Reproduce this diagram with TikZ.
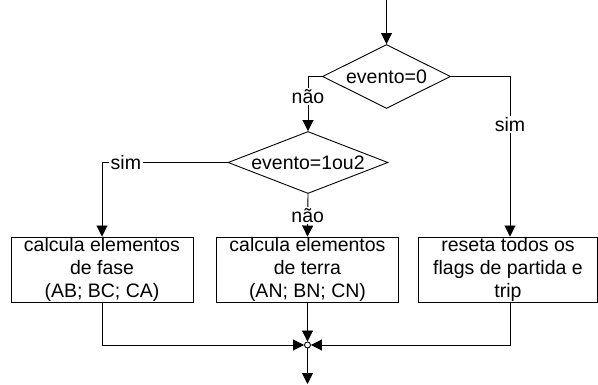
\documentclass[tikz,border=0pt]{standalone}
\usepackage{fontspec}
\setmainfont{Liberation Sans}
\usetikzlibrary{shapes.geometric,arrows.meta}

\tikzset{
    flow/.style={line width=0.9pt, -{Triangle[length=11pt, width=11pt]}},
    decision/.style={diamond, draw, line width=0.9pt, inner sep=0pt},
    procbox/.style={rectangle, draw, line width=0.9pt, align=center,
        minimum height=65pt, inner sep=0pt},
    tag/.style={fill=white, inner sep=1.5pt}
}

\begin{document}
\begin{tikzpicture}[x=1pt, y=-1pt, font=\fontsize{19.5}{23}\selectfont]
    \useasboundingbox (0,0) rectangle (598,385);

    % Decisions
    \node[decision, minimum width=128pt, minimum height=64pt, shape aspect=2] (ev0) at (386.5, 76.5) {evento=0};
    \node[decision, minimum width=160pt, minimum height=62pt, shape aspect=2.6] (ev12) at (308, 162.5) {evento=1ou2};

    % Process boxes
    \node[procbox, minimum width=182pt] (fase) at (102, 269.5) {calcula elementos\\ de fase\\ (AB; BC; CA)};
    \node[procbox, minimum width=182pt] (terra) at (307.5, 269.5) {calcula elementos\\ de terra\\ (AN; BN; CN)};
    \node[procbox, minimum width=179pt] (reset) at (508, 269.5) {reseta todos os\\ flags de partida e\\ trip};

    % Junction
    \node[circle, draw, fill=white, line width=0.9pt, inner sep=0pt, minimum size=6pt] (join) at (307.5, 345) {};

    \coordinate (start) at (386.5, 0);
    \coordinate (finish) at (307.5, 384);

    % Connectors
    \draw[flow] (start) -- (ev0.north);
    \draw[flow] (ev0.west) -| node[tag, pos=0.68] {não} (ev12.north);
    \draw[flow] (ev0.east) -| node[tag, pos=0.65] {sim} (reset.north -| 510, 0);
    \draw[flow] (ev12.west) -| node[tag, pos=0.405] {sim} (fase.north);
    \draw[flow] (ev12.south) -- node[tag, pos=0.5] {não} (terra.north);

    \draw[flow] (terra.south) -- (join.north);
    \draw[flow] (fase.south) |- (join.west);
    \draw[flow] (reset.south -| 510, 0) |- (join.east);
    \draw[flow] (join.south) -- (finish);
\end{tikzpicture}
\end{document}
